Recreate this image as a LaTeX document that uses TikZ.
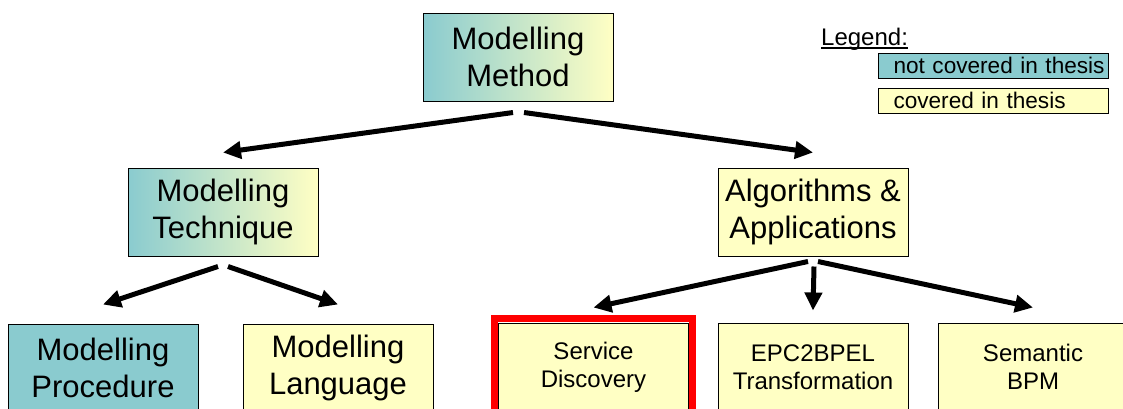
\documentclass[tikz,border=0pt]{standalone}
\usepackage{fontspec}
\setmainfont{Liberation Sans}
\usetikzlibrary{arrows.meta}
\definecolor{notcov}{RGB}{138,203,207}
\definecolor{cov}{RGB}{255,255,196}
\newcommand{\bigtxt}{\fontsize{31}{37}\selectfont}
\newcommand{\smalltxt}{\fontsize{24}{28}\selectfont}
\newcommand{\topic}[5]{\node[#4] (#1) at (#2,#3) {#5};}
\newcommand{\refine}[5]{\draw[refarrow] ([xshift=#3pt,yshift=-#4pt]#1.south) -- ([yshift=#5pt]#2.north);}
\tikzset{
  block/.style={draw, line width=1pt, minimum width=190pt, minimum height=88pt, inner sep=2pt, align=center},
  covered/.style={block, fill=cov},
  partly/.style={block, left color=notcov, right color=cov},
  notcovered/.style={block, fill=notcov},
  refarrow/.style={line width=5pt, -{Triangle[length=18pt,width=17pt]}},
  legendbox/.style={draw, line width=1pt, text width=230pt, inner xsep=0pt, inner ysep=0pt, minimum height=25pt, align=left, anchor=west, font=\fontsize{22.6}{26}\selectfont},
}
\begin{document}
\begin{tikzpicture}[x=1pt,y=-1pt]
    \clip (0,0) rectangle (1123,408);
    \topic{method}{518}{57}{partly,font=\bigtxt}{Modelling\\Method}
    \topic{technique}{223}{212}{partly,font=\bigtxt}{Modelling\\Technique}
    \topic{algo}{813}{212}{covered,font=\bigtxt}{Algorithms \&\\Applications}
    \topic{procedure}{103}{368}{notcovered,font=\bigtxt}{Modelling\\Procedure}
    \topic{language}{338}{368}{covered,font=\bigtxt}{Modelling\\Language}
    \topic{service}{593.5}{367}{covered,font=\smalltxt}{Service\\Discovery}
    \topic{epc}{813}{367}{covered,font=\smalltxt}{EPC2BPEL\\Transformation}
    \topic{semantic}{1033}{367}{covered,font=\smalltxt}{Semantic\\BPM}
    \draw[red, line width=7pt] ([xshift=-3.5pt,yshift=4.5pt]service.north west) rectangle ([xshift=3.5pt,yshift=-4.5pt]service.south east);
    \refine{method}{technique}{-5}{11}{15}\refine{method}{algo}{6}{11}{15}
    \refine{technique}{procedure}{-5}{10}{19}\refine{technique}{language}{5}{10}{19}
    \refine{algo}{service}{-5}{5}{15}\refine{algo}{epc}{1}{10}{12}
    \refine{algo}{semantic}{5}{5}{15}
    % legend
    \node[anchor=base west, inner sep=0pt, font=\fontsize{24}{28}\selectfont] (legend) at (821,45) {Legend:};
    \draw[line width=1.2pt] ([yshift=-3pt]legend.base west) -- ([yshift=-3pt]legend.base east);
    \node[legendbox, fill=notcov] (lnot) at (878,65.5) {\hspace*{15pt}not covered in thesis};
    \node[legendbox, fill=cov] (lcov) at (878,100.5) {\hspace*{15pt}covered in thesis};
\end{tikzpicture}
\end{document}
